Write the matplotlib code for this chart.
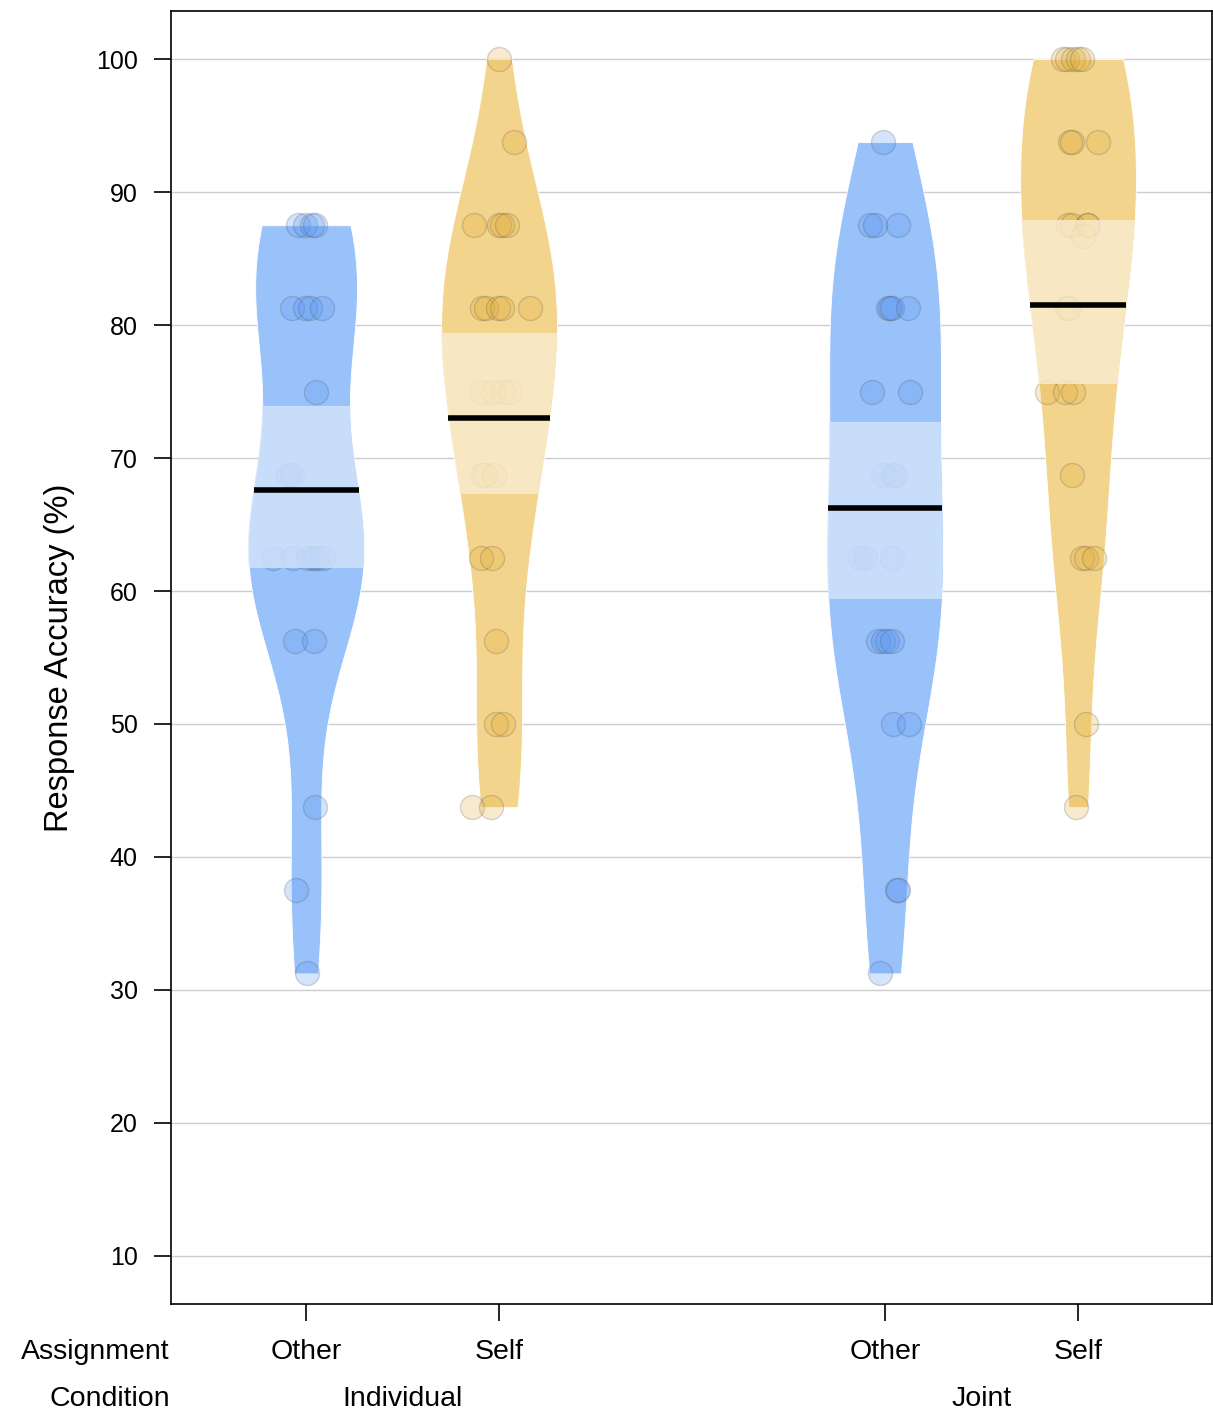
import numpy as np
import matplotlib
matplotlib.use('Agg')
import matplotlib.pyplot as plt
from matplotlib.colors import to_rgba
from matplotlib.patches import PathPatch, Rectangle
from matplotlib.transforms import blended_transform_factory

##########################################################
#                        Data                            #
##########################################################

# bean positions on the x axis and their labels
positions = [1, 2, 4, 5]
assignment_labels = ['Other', 'Self', 'Other', 'Self']
condition_labels = ['Individual', 'Joint']
condition_centers = [1.5, 4.5]

# response accuracy (%) for every participant, per group
ind_other = [87.5, 87.5, 87.5, 87.5, 81.25, 81.25, 81.25, 81.25, 75,
             68.75, 68.75, 62.5, 62.5, 62.5, 62.5, 62.5, 62.5,
             56.25, 56.25, 43.75, 37.5, 31.25]
ind_self = [100, 93.75, 87.5, 87.5, 87.5, 87.5, 81.25, 81.25, 81.25, 81.25, 81.25,
            75, 75, 75, 75, 68.75, 68.75, 68.75, 62.5, 62.5, 56.25,
            50, 50, 43.75, 43.75]
joint_other = [93.75, 87.5, 87.5, 87.5, 81.25, 81.25, 81.25, 81.25, 75, 75,
               68.75, 68.75, 68.75, 62.5, 62.5, 62.5, 56.25, 56.25, 56.25, 56.25,
               50, 50, 37.5, 37.5, 31.25]
joint_self = [100, 100, 100, 100, 100, 93.75, 93.75, 93.75, 87.5, 87.5, 87.5, 87.5,
              86.67, 81.25, 81.25, 75, 75, 75, 68.75, 62.5, 62.5, 62.5, 50, 43.75]

# horizontal jitter of each point
ind_other_jit = [-0.04, -0.005, 0.03, 0.047, -0.073, -0.005, 0.021, 0.083, 0.052,
                 -0.093, -0.073, -0.171, -0.067, 0.01, 0.036, 0.057, 0.088,
                 -0.057, 0.041, 0.047, -0.052, 0.005]
ind_self_jit = [0.0, 0.078, -0.13, 0.0, 0.016, 0.041, -0.088, -0.067, -0.005, 0.016, 0.16,
                -0.088, -0.031, 0.021, 0.057, -0.088, -0.073, -0.026, -0.093, -0.036, -0.016,
                -0.016, 0.021, -0.14, -0.041]
joint_other_jit = [-0.01, -0.078, -0.052, 0.067, 0.016, 0.026, 0.036, 0.119, -0.067, 0.13,
                   -0.01, 0.041, 0.052, -0.13, -0.104, 0.036, -0.036, -0.01, 0.01, 0.036,
                   0.041, 0.124, 0.062, 0.067, -0.026]
joint_self_jit = [-0.078, -0.057, -0.026, 0.0, 0.021, -0.041, -0.031, 0.104, -0.052, -0.031, 0.047, 0.052,
                  0.026, -0.057, -0.047, -0.16, -0.067, -0.026, -0.031, 0.021, 0.041, 0.083, 0.041, -0.01]

# inference band (HDI) limits per group
band_low = [61.7, 67.3, 59.4, 75.6]
band_high = [73.9, 79.4, 72.7, 87.9]

groups = [ind_other, ind_self, joint_other, joint_self]
jitters = [ind_other_jit, ind_self_jit, joint_other_jit, joint_self_jit]

# colours
bean_cols = ['#99c2fa', '#f3d48c', '#99c2fa', '#f3d48c']
band_cols = ['#d5e4fb', '#f9edd2', '#d5e4fb', '#f9edd2']
point_cols = ['#5a96f0', '#e0ad3c', '#5a96f0', '#e0ad3c']


##########################################################
#                   Density helper                       #
##########################################################

def bw_nrd0(x):
    '''Same rule of thumb as R's default density() bandwidth.'''
    x = np.asarray(x, dtype=float)
    sd = np.std(x, ddof=1)
    iqr = np.subtract(*np.percentile(x, [75, 25]))
    lo = min(sd, iqr / 1.34)
    return 0.9 * lo * len(x) ** (-0.2)


def kde(x, grid):
    x = np.asarray(x, dtype=float)
    bw = bw_nrd0(x)
    z = (grid[:, None] - x[None, :]) / bw
    return np.exp(-0.5 * z ** 2).sum(axis=1) / (len(x) * bw * np.sqrt(2 * np.pi))


##########################################################
#                        Plot                            #
##########################################################

plt.rcParams['font.family'] = ['Liberation Sans', 'DejaVu Sans']

fig = plt.figure(figsize=(12.13, 14.15), dpi=100)
ax = fig.add_axes([171 / 1213, 111 / 1415, 1041 / 1213, 1293 / 1415])

half_width = 0.30

for pos, vals, jit, lo, hi, bcol, fcol, pcol in zip(positions, groups, jitters, band_low,
                                                     band_high, bean_cols, band_cols, point_cols):
    vals = np.asarray(vals, dtype=float)
    grid = np.linspace(vals.min(), vals.max(), 400)
    dens = kde(vals, grid)
    scale = half_width / dens.max()
    w = dens * scale

    # bean
    bean = ax.fill_betweenx(grid, pos - w, pos + w, facecolor=bcol, edgecolor='white',
                            linewidth=0.6, zorder=2)

    # points
    ax.scatter(pos + np.asarray(jit), vals, s=300, facecolor=to_rgba(pcol, 0.25),
               edgecolor=(0.3, 0.3, 0.3, 0.22), linewidth=1.0, zorder=3)

    # inference band, clipped to the bean shape
    clip = PathPatch(bean.get_paths()[0], transform=ax.transData, facecolor='none',
                     edgecolor='none')
    ax.add_patch(clip)
    band = Rectangle((pos - 0.5, lo), 1.0, hi - lo, facecolor=fcol, alpha=0.8,
                     edgecolor='none', zorder=4)
    ax.add_patch(band)
    band.set_clip_path(clip)

    # mean line
    m = vals.mean()
    mw = np.interp(m, grid, w)
    ax.plot([pos - mw, pos + mw], [m, m], color='black', linewidth=4.0,
            solid_capstyle='butt', zorder=5)

# gridlines
for yv in range(10, 101, 10):
    ax.axhline(yv, color='#cccccc', linewidth=1.0, zorder=1)

ax.set_xlim(0.3, 5.694)
ax.set_ylim(6.39, 103.61)

ax.set_yticks(range(10, 101, 10))
ax.tick_params(axis='y', labelsize=18, length=12, width=1.2, pad=12)
ax.set_xticks(positions)
ax.set_xticklabels([])
ax.tick_params(axis='x', length=12, width=1.2)

for side in ['left', 'right', 'top', 'bottom']:
    ax.spines[side].set_linewidth(1.2)

ax.set_ylabel('Response Accuracy (%)', fontsize=23.5)
ax.yaxis.set_label_coords(-0.092, 0.5)

# bottom labels
trans = blended_transform_factory(ax.transData, fig.transFigure)
for pos, lab in zip(positions, assignment_labels):
    ax.text(pos, 1 - 1352 / 1415, lab, transform=trans, ha='center', va='center',
            fontsize=20.5, clip_on=False)
for cen, lab in zip(condition_centers, condition_labels):
    ax.text(cen, 1 - 1399 / 1415, lab, transform=trans, ha='center', va='center',
            fontsize=20.5, clip_on=False)
fig.text(170 / 1213, 1 - 1352 / 1415, 'Assignment', ha='right', va='center', fontsize=20.5)
fig.text(170 / 1213, 1 - 1399 / 1415, 'Condition', ha='right', va='center', fontsize=20.5)

plt.savefig('out.png', dpi=100, facecolor='white')
